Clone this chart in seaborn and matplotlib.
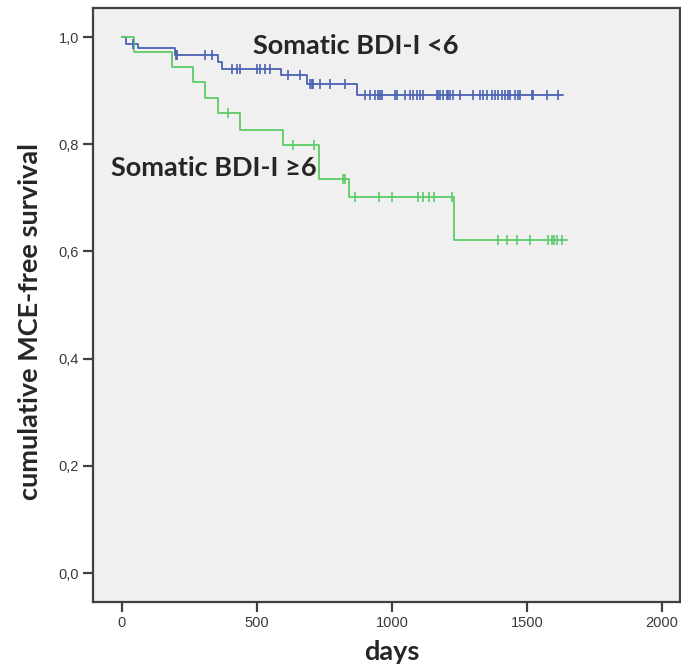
import numpy as np
import pandas as pd
import matplotlib
matplotlib.use("Agg")
import matplotlib.pyplot as plt
import seaborn as sns

# Kaplan-Meier step data (days, survival)
low_times = [0, 15, 59, 198, 357, 369, 591, 684, 869, 1633]
low_surv = [1.0, 0.988, 0.979, 0.966, 0.954, 0.941, 0.929, 0.913, 0.892, 0.892]
low_censor = [40, 200, 205, 307, 332, 406, 425, 437, 499, 511, 530, 548, 616, 659,
              696, 703, 707, 733, 770, 826, 900, 918, 937, 948, 955, 962, 1011, 1018,
              1048, 1067, 1078, 1092, 1104, 1115, 1166, 1170, 1178, 1189, 1203, 1207,
              1215, 1226, 1252, 1300, 1326, 1337, 1352, 1370, 1381, 1393, 1407, 1419,
              1430, 1437, 1456, 1467, 1474, 1519, 1522, 1574, 1615]

high_times = [0, 44, 184, 264, 307, 355, 437, 595, 730, 841, 1231, 1647]
high_surv = [1.0, 0.973, 0.945, 0.917, 0.887, 0.858, 0.827, 0.799, 0.736, 0.701, 0.622, 0.622]
high_censor = [393, 634, 712, 817, 826, 863, 953, 1002, 1098, 1116, 1137, 1156, 1221,
               1391, 1427, 1462, 1511, 1579, 1591, 1600, 1610, 1628]

groups = ["Somatic BDI-I <6", "Somatic BDI-I \u22656"]
colors = {"Somatic BDI-I <6": "#4a62b4", "Somatic BDI-I \u22656": "#5ccb66"}


def surv_at(times, surv, t):
    idx = np.searchsorted(times, t, side="right") - 1
    return np.asarray(surv)[idx]


curves = pd.concat([
    pd.DataFrame({"days": low_times, "surv": low_surv, "group": groups[0]}),
    pd.DataFrame({"days": high_times, "surv": high_surv, "group": groups[1]}),
])
censored = pd.concat([
    pd.DataFrame({"days": low_censor, "surv": surv_at(low_times, low_surv, low_censor), "group": groups[0]}),
    pd.DataFrame({"days": high_censor, "surv": surv_at(high_times, high_surv, high_censor), "group": groups[1]}),
])

sns.set_style("ticks")
fig = plt.figure(figsize=(6.81, 6.68), dpi=100)
ax = fig.add_axes([0.1366, 0.0988, 0.862, 0.889])
ax.set_facecolor("#f0f0f0")

for g in groups:
    d = curves[curves.group == g]
    sns.lineplot(data=d, x="days", y="surv", ax=ax, color=colors[g], lw=1.3,
                 drawstyle="steps-post", estimator=None, sort=False, legend=False)
    c = censored[censored.group == g]
    ax.scatter(c["days"], c["surv"], marker="|", s=45, color=colors[g], lw=1.2, zorder=3)

ax.set_xlim(-107, 2067)
ax.set_ylim(-0.054, 1.054)
ax.set_xticks([0, 500, 1000, 1500, 2000])
ax.set_yticks([0.0, 0.2, 0.4, 0.6, 0.8, 1.0])
ax.set_yticklabels(["0,0", "0,2", "0,4", "0,6", "0,8", "1,0"])
ax.tick_params(axis="both", direction="out", length=7, width=1.6, color="#404040",
               labelsize=10.5, labelcolor="#3a3a3a", pad=3)
for lab in ax.get_xticklabels() + ax.get_yticklabels():
    lab.set_family("Liberation Sans")
for s in ax.spines.values():
    s.set_color("#404040")
    s.set_linewidth(1.6)

font = ["Lato", "DejaVu Sans"]
ax.set_xlabel("days", fontsize=19.5, fontweight="bold", family=font, va="center")
ax.set_ylabel("cumulative MCE-free survival", fontsize=19.5, fontweight="bold", family=font, va="center")
ax.xaxis.set_label_coords(0.509, -0.084)
ax.yaxis.set_label_coords(-0.107, 0.473)
ax.text(867, 0.983, groups[0], fontsize=19.5, fontweight="bold", family=font, ha="center", va="center")
ax.text(341, 0.755, groups[1], fontsize=19.5, fontweight="bold", family=font, ha="center", va="center")

fig.savefig("out.png", dpi=100)
